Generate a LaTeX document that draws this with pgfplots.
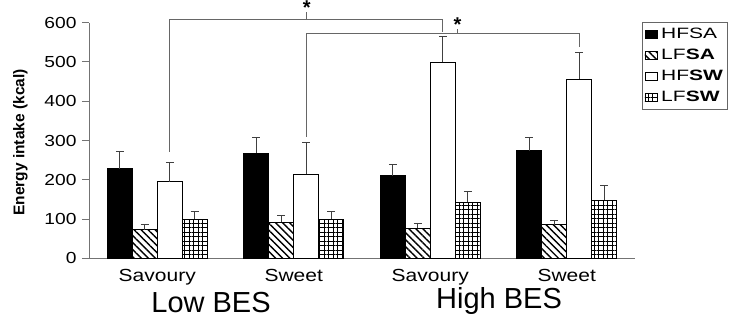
\documentclass[border=0pt]{standalone}
\usepackage{graphicx}
\usepackage{pgfplots}
\pgfplotsset{compat=1.18}
\usepackage{pgfplotstable}
\usetikzlibrary{patterns.meta}
\usepackage{fontspec}
\setmainfont{Liberation Sans}
\newfontfamily\stfont[FakeStretch=1.2]{Liberation Sans}
\newcommand\lf[1]{\scalebox{1.4}[1]{\fontsize{15bp}{17bp}\selectfont #1}}

\pgfplotstableread{
x y e
0.5 228 45
1.5 268 39
2.5 210 30
3.5 274 34
}\hfsa
\pgfplotstableread{
x y e
0.5 73 14
1.5 92 16
2.5 76 14
3.5 85 12
}\lfsa
\pgfplotstableread{
x y e
0.5 195 48
1.5 214 81
2.5 499 67
3.5 456 67
}\hfsw
\pgfplotstableread{
x y e
0.5 100 20
1.5 100 20
2.5 143 28
3.5 148 37
}\lfsw

\pgfplotsset{
  mybar/.style={ybar, bar width=25bp, bar shift=0pt, draw=black, line width=0.9bp,
    error bars/.cd, y dir=plus, y explicit,
    error bar style={black!75, line width=0.9bp},
    error mark options={rotate=90, mark size=4bp, black!75, line width=0.9bp},
    /pgfplots/.cd,
    legend image code/.code={\draw[##1,line width=0.6bp] (0bp,-4bp) rectangle (12bp,4bp); \path (14bp,0bp);}},
  bracket/.style={sharp plot, no marks, black!60, line width=1bp, forget plot},
}

\begin{document}
\begin{tikzpicture}
\begin{axis}[
  at={(89bp,63.7bp)}, anchor=south west,
  scale only axis, width=546bp, height=235.6bp,
  xmin=0, xmax=4, ymin=0, ymax=600,
  clip=false,
  axis x line*=bottom, axis y line*=left,
  axis line style={black!55, line width=1bp, -},
  ytick={0,100,...,600},
  tick align=outside,
  major tick length=7bp, minor tick length=7bp,
  ytick style={black!55, line width=1bp},
  xtick={0.5,1.5,2.5,3.5},
  xticklabels={Savoury,Sweet,Savoury,Sweet},
  xtick style={draw=none},
  minor xtick={0,1,2,3,4},
  minor tick style={black!55, line width=1bp},
  /pgf/number format/assume math mode=true,
  yticklabel style={font=\stfont\fontsize{16bp}{18bp}\selectfont, xshift=-2bp},
  xticklabel style={font=\stfont\fontsize{17.5bp}{19bp}\selectfont, yshift=0bp},
  legend style={at={(rel axis cs:1,1)}, xshift=7bp, yshift=1bp, anchor=north west,
    draw=black!60, line width=1bp,
    row sep=5bp, inner xsep=2bp, inner ysep=4bp,
    legend cell align=left},
]
\addplot[mybar, fill=black] table[x expr=\thisrow{x}-0.2747,y=y,y error=e]{\hfsa};
\addlegendentry{\lf{HFSA}}
\addplot[mybar, pattern={Lines[angle=-45,distance=5bp,line width=1.4bp]}] table[x expr=\thisrow{x}-0.0916,y=y,y error=e]{\lfsa};
\addlegendentry{\lf{LF\textbf{SA}}}
\addplot[mybar, fill=white] table[x expr=\thisrow{x}+0.0916,y=y,y error=e]{\hfsw};
\addlegendentry{\lf{HF\textbf{SW}}}
\addplot[mybar, pattern={Hatch[angle=0,distance=4.5bp,line width=0.8bp]}] table[x expr=\thisrow{x}+0.2747,y=y,y error=e]{\lfsw};
\addlegendentry{\lf{LF\textbf{SW}}}

\addplot[bracket] coordinates {(0.592,271) (0.592,609) (2.592,609) (2.592,576)};
\addplot[bracket] coordinates {(1.592,609) (1.592,627)};
\addplot[bracket] coordinates {(1.592,309) (1.592,573) (3.592,573) (3.592,539)};
\addplot[bracket] coordinates {(2.70,573) (2.70,585)};

\node[font=\bfseries\fontsize{20bp}{22bp}\selectfont, inner sep=0pt] at (axis cs:1.595,638) {*};
\node[font=\bfseries\fontsize{20bp}{22bp}\selectfont, inner sep=0pt] at (axis cs:2.70,594) {*};

\node[rotate=90, font=\bfseries\fontsize{15.5bp}{17bp}\selectfont] at (axis cs:-0.502,295) {Energy intake (kcal)};
\node[anchor=base, font=\fontsize{29bp}{32bp}\selectfont, inner sep=0pt] at (axis cs:0.894,-138) {Low BES};
\node[anchor=base, font=\fontsize{29bp}{32bp}\selectfont, inner sep=0pt] at (axis cs:3.004,-126.6) {High BES};
\end{axis}
\path (0,0) rectangle (752bp,322bp);
\end{tikzpicture}
\end{document}
